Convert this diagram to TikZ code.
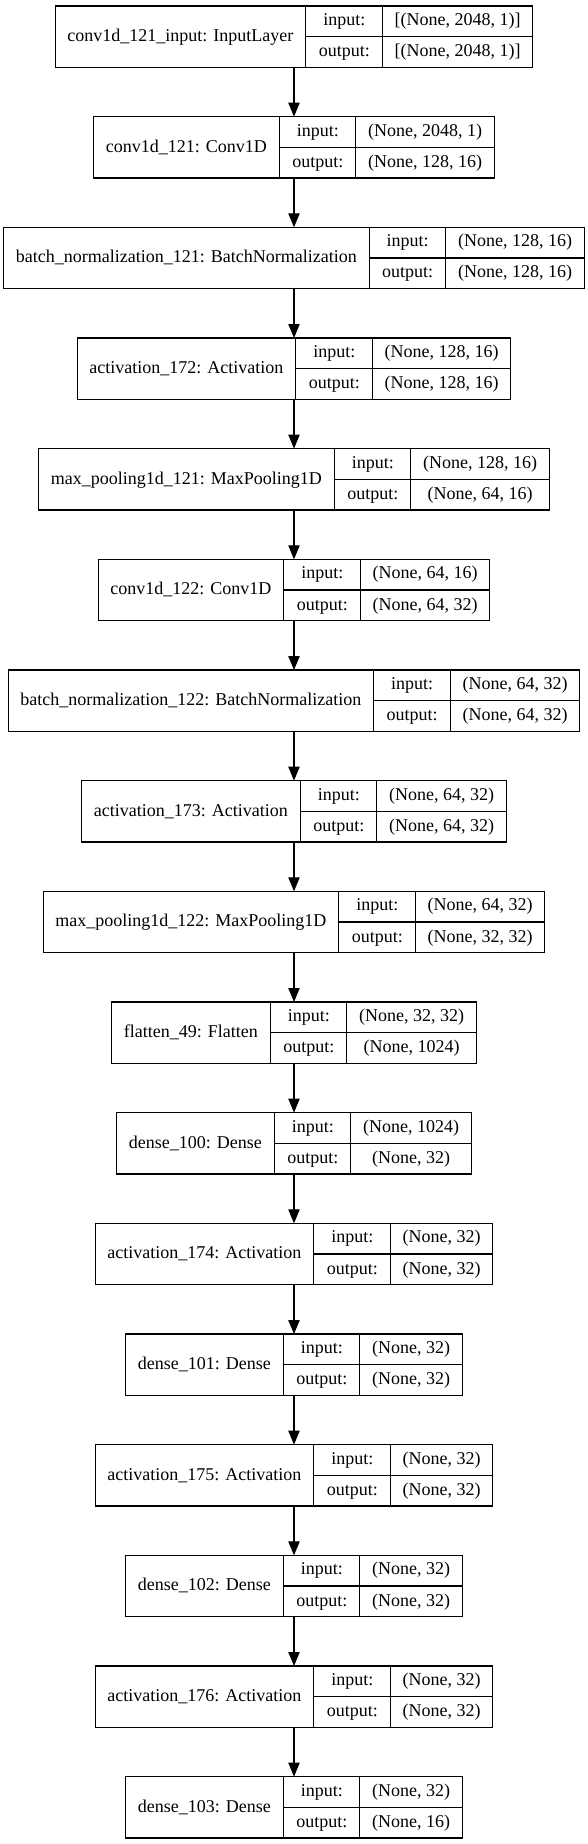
\documentclass[tikz,border=0pt]{standalone}
\usepackage{fontspec}
\setmainfont{Liberation Serif}
\usepackage{tikz}
\usetikzlibrary{arrows.meta}
\usetikzlibrary{positioning}

\newcommand{\layerfont}{\fontsize{13.5pt}{16pt}\selectfont}
\newcommand{\rowstrut}{\rule[-8pt]{0pt}{22.6pt}}
\setlength{\arrayrulewidth}{0.8pt}
\setlength{\tabcolsep}{9.3pt}

\tikzset{
  layerbox/.style={draw, line width=0.8pt, inner sep=0pt, outer sep=0pt, anchor=north},
  flow/.style={line width=0.8pt, -{Triangle[length=10.5pt,width=8.5pt]}}
}

% \layer{id}{top}{name}{input shape}{output shape}
\newcommand{\layer}[5]{%
  \node[layerbox] (#1) at (0,#2) {%
    \begin{tabular}{c|@{}c@{}}
      #3 &
      \begin{tabular}{c|c}
        \rowstrut input: & #4 \\ \hline
        \rowstrut output: & #5
      \end{tabular}
    \end{tabular}};
}

\begin{document}
\begin{tikzpicture}[x=1pt,y=1pt,font=\layerfont]
    \useasboundingbox (-220.5,0) rectangle (220.5,-1383);

    \layer{input}{-4.5}{conv1d\_121\_input: InputLayer}{[(None, 2048, 1)]}{[(None, 2048, 1)]}
    \layer{conva}{-87.5}{conv1d\_121: Conv1D}{(None, 2048, 1)}{(None, 128, 16)}
    \layer{bna}{-170.5}{batch\_normalization\_121: BatchNormalization}{(None, 128, 16)}{(None, 128, 16)}
    \layer{acta}{-253.5}{activation\_172: Activation}{(None, 128, 16)}{(None, 128, 16)}
    \layer{poola}{-336.5}{max\_pooling1d\_121: MaxPooling1D}{(None, 128, 16)}{(None, 64, 16)}
    \layer{convb}{-419.5}{conv1d\_122: Conv1D}{(None, 64, 16)}{(None, 64, 32)}
    \layer{bnb}{-502.5}{batch\_normalization\_122: BatchNormalization}{(None, 64, 32)}{(None, 64, 32)}
    \layer{actb}{-585.5}{activation\_173: Activation}{(None, 64, 32)}{(None, 64, 32)}
    \layer{poolb}{-668.5}{max\_pooling1d\_122: MaxPooling1D}{(None, 64, 32)}{(None, 32, 32)}
    \layer{flat}{-751.5}{flatten\_49: Flatten}{(None, 32, 32)}{(None, 1024)}
    \layer{densea}{-834.5}{dense\_100: Dense}{(None, 1024)}{(None, 32)}
    \layer{actc}{-917.5}{activation\_174: Activation}{(None, 32)}{(None, 32)}
    \layer{denseb}{-1000.5}{dense\_101: Dense}{(None, 32)}{(None, 32)}
    \layer{actd}{-1083.5}{activation\_175: Activation}{(None, 32)}{(None, 32)}
    \layer{densec}{-1166.5}{dense\_102: Dense}{(None, 32)}{(None, 32)}
    \layer{acte}{-1249.5}{activation\_176: Activation}{(None, 32)}{(None, 32)}
    \layer{densed}{-1332.5}{dense\_103: Dense}{(None, 32)}{(None, 16)}

    \draw[flow] (input.south) -- (conva.north);
    \draw[flow] (conva.south) -- (bna.north);
    \draw[flow] (bna.south) -- (acta.north);
    \draw[flow] (acta.south) -- (poola.north);
    \draw[flow] (poola.south) -- (convb.north);
    \draw[flow] (convb.south) -- (bnb.north);
    \draw[flow] (bnb.south) -- (actb.north);
    \draw[flow] (actb.south) -- (poolb.north);
    \draw[flow] (poolb.south) -- (flat.north);
    \draw[flow] (flat.south) -- (densea.north);
    \draw[flow] (densea.south) -- (actc.north);
    \draw[flow] (actc.south) -- (denseb.north);
    \draw[flow] (denseb.south) -- (actd.north);
    \draw[flow] (actd.south) -- (densec.north);
    \draw[flow] (densec.south) -- (acte.north);
    \draw[flow] (acte.south) -- (densed.north);
\end{tikzpicture}
\end{document}
